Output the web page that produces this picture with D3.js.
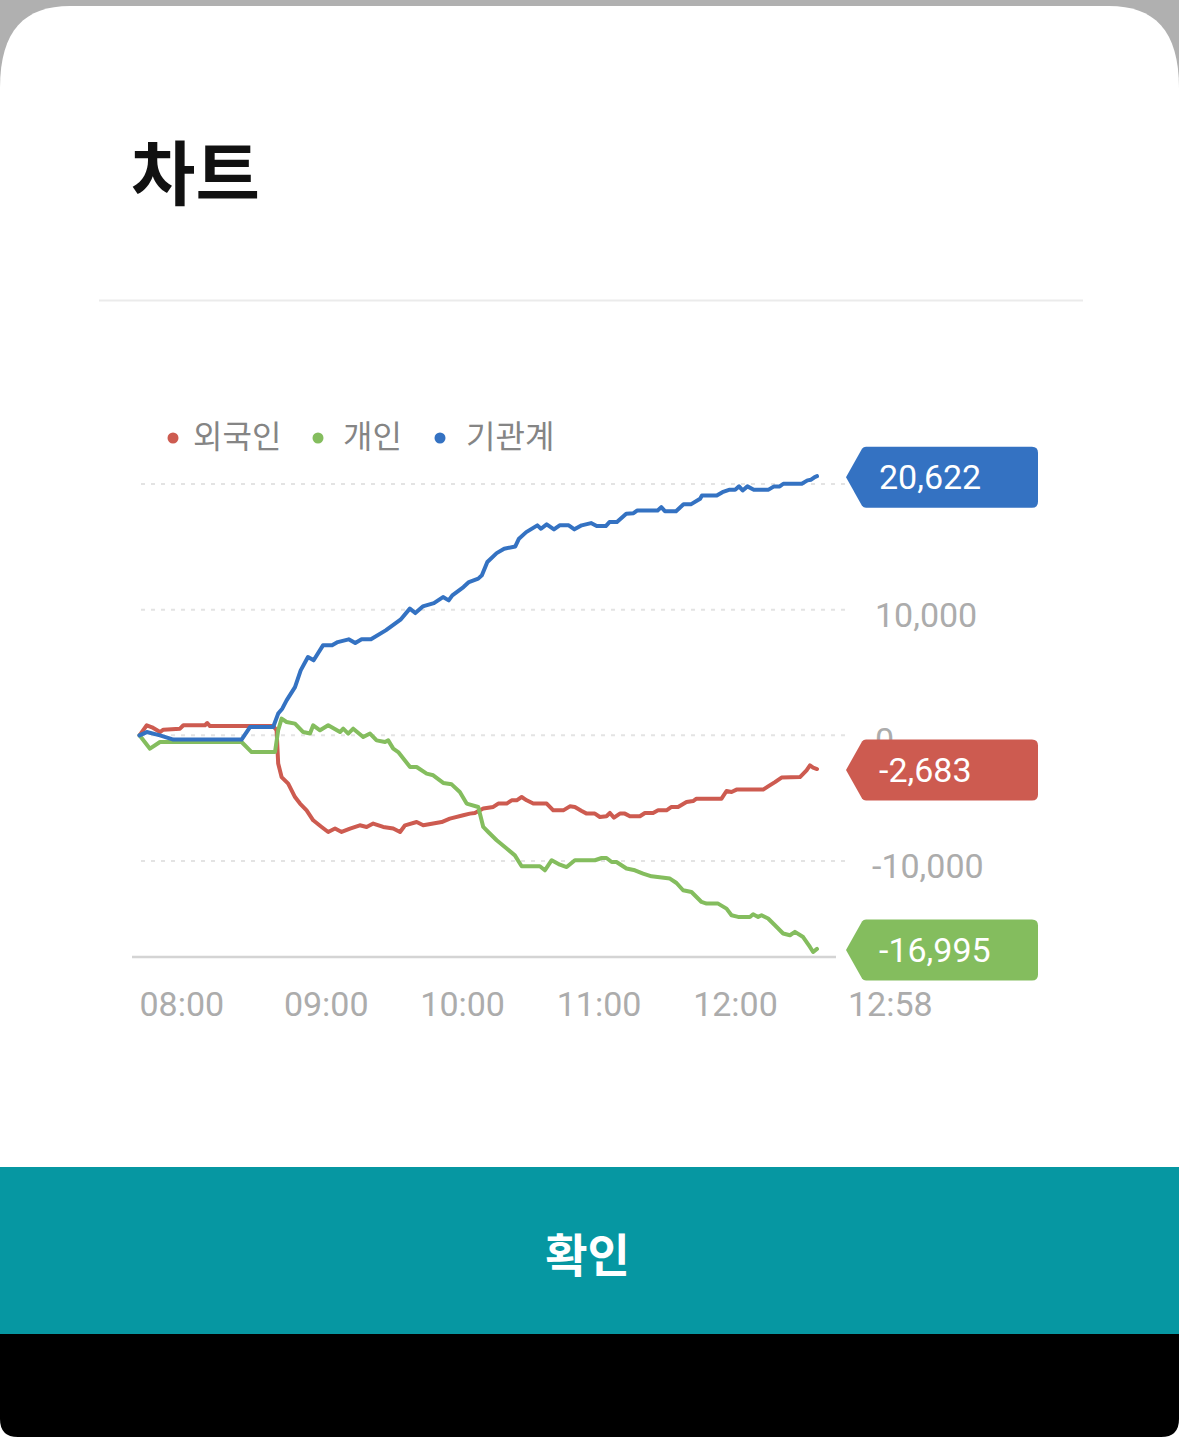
<!DOCTYPE html>
<html><head><meta charset="utf-8">
<script src="https://cdn.jsdelivr.net/npm/d3@7"></script>
<style>body{margin:0;background:#fff;}svg{display:block}</style>
</head><body>
<svg id="c" width="1179" height="1437"></svg>
<script>
// ---------- data ----------
const seriesNames = ["외국인", "개인", "기관계"];
const seriesColors = ["#cd5b50", "#84bd5e", "#3472c2"];
const lastValueLabels = ["-2,683", "-16,995", "20,622"];
const gridValues = [-10000, 0, 10000, 20000];
const yTickValues = [-10000, 0, 10000];
const xTickLabels = ["08:00", "09:00", "10:00", "11:00", "12:00", "12:58"];
// [minutes after 08:00, net amount]
const foreign = [[0,0],[3.2,800],[5.5,640],[9.0,260],[10.5,450],[17.8,530],[19.3,800],[28.8,800],[29.8,980],[31.0,740],[58.8,740],[60.3,400],[61.0,-2250],[62.5,-3320],[65.4,-3840],[68.4,-4910],[70.6,-5430],[73.5,-5970],[76.4,-6760],[80.1,-7290],[83.0,-7690],[86.0,-7420],[88.9,-7690],[92.6,-7420],[96.9,-7160],[99.9,-7290],[102.8,-7020],[107.2,-7290],[111.6,-7420],[114.6,-7690],[116.8,-7160],[121.9,-6900],[124.8,-7160],[132.9,-6900],[136.5,-6630],[142.4,-6360],[145.3,-6230],[147.5,-6180],[151.2,-5830],[155.6,-5700],[157.8,-5430],[161.5,-5430],[163.7,-5170],[165.9,-5170],[168.1,-4910],[170.3,-5170],[173.2,-5430],[179.1,-5430],[182.0,-5970],[186.4,-5970],[189.3,-5650],[191.5,-5700],[194.5,-6020],[196.7,-6230],[200.3,-6230],[202.5,-6500],[205.4,-6440],[206.9,-6180],[208.7,-6550],[211.3,-6230],[213.5,-6230],[215.7,-6440],[220.1,-6440],[222.3,-6180],[225.9,-6180],[228.1,-5970],[231.8,-5970],[234.0,-5700],[236.9,-5700],[240.6,-5310],[243.5,-5230],[245.0,-5040],[256.0,-5040],[258.2,-4430],[260.4,-4510],[262.6,-4320],[274.3,-4320],[276.5,-4060],[279.5,-3720],[282.4,-3360],[290.5,-3320],[293.4,-2780],[294.9,-2390],[296.3,-2570],[298,-2683]];
const individual = [[0,0],[4.6,-1060],[9.0,-530],[44.9,-530],[49.3,-1330],[59.6,-1330],[61.0,400],[62.5,1330],[64.7,1060],[68.4,930],[72.0,260],[75.0,140],[76.4,800],[79.4,400],[83.0,800],[88.2,260],[89.6,530],[91.8,140],[94.0,530],[98.4,-140],[101.4,140],[104.3,-400],[108.0,-530],[109.4,-400],[111.6,-1060],[113.8,-1330],[119.0,-2520],[121.9,-2520],[126.3,-3050],[129.2,-3180],[133.6,-3790],[137.3,-3900],[140.9,-4510],[143.9,-5430],[149.0,-5700],[151.2,-7290],[153.4,-7690],[157.1,-8350],[161.5,-9010],[165.1,-9550],[168.1,-10420],[176.1,-10420],[178.3,-10740],[181.3,-9940],[184.9,-10290],[187.9,-10480],[191.5,-9940],[200.3,-9940],[203.3,-9760],[205.4,-9760],[207.7,-10080],[209.8,-10080],[214.2,-10600],[217.9,-10740],[221.5,-11000],[225.2,-11220],[233.3,-11400],[236.2,-11750],[239.1,-12330],[242.8,-12470],[247.2,-13260],[249.4,-13390],[254.5,-13390],[258.2,-13790],[260.4,-14320],[263.3,-14450],[268.5,-14450],[269.9,-14240],[272.1,-14450],[273.6,-14320],[276.5,-14580],[279.5,-15110],[283.1,-15770],[286.1,-15910],[288.3,-15640],[291.9,-16050],[294.9,-16840],[296.3,-17240],[298,-16995]];
const institution = [[0,0],[3.2,260],[9.0,0],[14.9,-340],[44.9,-340],[48.6,660],[58.8,660],[61.0,1730],[62.8,2120],[64.7,2780],[68.4,3840],[70.9,5170],[74.1,6230],[76.6,5970],[80.7,7160],[84.7,7160],[87.2,7420],[92.0,7640],[94.9,7340],[97.7,7640],[101.8,7640],[108.3,8350],[114.8,9200],[118.9,10080],[121.3,9730],[124.6,10260],[129.5,10520],[133.5,11000],[136.0,10740],[137.6,11140],[142.5,11800],[144.9,12200],[149.0,12470],[150.6,12730],[153.0,13790],[157.1,14500],[160.4,14850],[165.3,15030],[166.9,15650],[170.1,16170],[175.0,16710],[176.6,16440],[179.1,16790],[182.3,16390],[184.8,16710],[188.8,16710],[191.3,16390],[194.5,16710],[198.6,16890],[201.1,16650],[205.1,16650],[206.7,16970],[210.0,16970],[214.1,17640],[217.3,17680],[219.0,17900],[227.9,17900],[229.5,18160],[231.1,17840],[236.0,17840],[239.3,18380],[242.5,18380],[246.6,18830],[247.4,19090],[253.9,19090],[256.4,19350],[259.6,19550],[262.0,19550],[263.7,19810],[265.3,19490],[267.4,19810],[270.2,19550],[276.7,19550],[279.1,19810],[281.6,19810],[283.2,20020],[291.3,20020],[293.8,20290],[295.4,20340],[297.0,20550],[298,20622]];
const seriesData = [foreign, individual, institution];

// ---------- drawing ----------
const svg = d3.select("#c");
const W = 1179, H = 1437;
const toMin = s => { const [h, m] = s.split(":").map(Number); return (h - 8) * 60 + m; };
const fmt = v => d3.format(",")(v).replace("\u2212", "-");

// phone frame
svg.append("rect").attr("x",0).attr("y",0).attr("width",W).attr("height",90).attr("fill","#b0b0b0");
svg.append("path").attr("fill","#fff")
  .attr("d",`M0,88 C0,30 25,6 70,6 L${W-70},6 C${W-25},6 ${W},30 ${W},88 L${W},${H} L0,${H} Z`);

// title
svg.append("text").attr("x",131).attr("y",200).text("차트")
  .attr("font-family","'Noto Sans CJK KR', sans-serif").attr("font-weight",700)
  .attr("font-size",70).attr("fill","#111");
svg.append("line").attr("x1",99).attr("x2",1083).attr("y1",300.5).attr("y2",300.5)
  .attr("stroke","#ebebeb").attr("stroke-width",2);

// scales
const x = d3.scaleLinear().domain([0, toMin("12:58")]).range([139.5, 817]);
const y = d3.scaleLinear().domain([-10000, 20000]).range([861, 484]);
const gridX1 = 141, gridX2 = 846, axisX1 = 132, axisX2 = 836, axisY = 957;

// grid
const g = svg.append("g");
g.selectAll("line.grid").data(gridValues).join("line")
  .attr("x1",gridX1).attr("x2",gridX2)
  .attr("y1",d=>y(d)).attr("y2",d=>y(d))
  .attr("stroke","#e3e3e3").attr("stroke-width",2).attr("stroke-dasharray","4,6");
// y tick labels
g.selectAll("text.yt").data(yTickValues).join("text")
  .attr("x",d=> d<0 ? 872 : 875).attr("y",d=>y(d)+17)
  .text(d=>fmt(d))
  .attr("font-family","Roboto, sans-serif").attr("font-size",34).attr("fill","#acacac");

// bottom axis line
svg.append("line").attr("x1",axisX1).attr("x2",axisX2).attr("y1",axisY).attr("y2",axisY)
  .attr("stroke","#d4d4d4").attr("stroke-width",2.5);
// x tick labels
svg.selectAll("text.xt").data(xTickLabels).join("text")
  .attr("x",(d,i)=> i===0 ? x(toMin(d)) : (i===xTickLabels.length-1 ? axisX2+12 : x(toMin(d))+8))
  .attr("y",1016).text(d=>d)
  .attr("font-family","Roboto, sans-serif").attr("font-size",34).attr("fill","#acacac");

// lines
const line = d3.line().x(d=>x(d[0])).y(d=>y(d[1]));
seriesData.forEach((s,i)=>{
  svg.append("path").datum(s).attr("d",line).attr("fill","none")
    .attr("stroke",seriesColors[i]).attr("stroke-width",4)
    .attr("stroke-linejoin","round").attr("stroke-linecap","round");
});

// legend
const legendX = [173, 318, 440];
const legendGap = [20, 25, 26];
seriesNames.forEach((n,i)=>{
  svg.append("circle").attr("cx",legendX[i]).attr("cy",438).attr("r",5.5).attr("fill",seriesColors[i]);
  svg.append("text").attr("x",legendX[i]+legendGap[i]).attr("y",448).text(n)
    .attr("font-family","'Noto Sans CJK KR', sans-serif").attr("font-size",32).attr("fill","#858585");
});

// end-value badges
seriesData.forEach((s,i)=>{
  const last = s[s.length-1];
  const cy = y(last[1]) + 1;
  const h = 61, tip = 846, bx = 862, right = 1038, r = 6;
  const top = cy - h/2, bot = cy + h/2;
  svg.append("path").attr("fill",seriesColors[i])
    .attr("d",`M${tip},${cy} L${bx},${top+2} Q${bx+1.5},${top} ${bx+4},${top} L${right-r},${top} Q${right},${top} ${right},${top+r} L${right},${bot-r} Q${right},${bot} ${right-r},${bot} L${bx+4},${bot} Q${bx+1.5},${bot} ${bx},${bot-2} Z`);
  svg.append("text").attr("x",879).attr("y",cy+12).text(lastValueLabels[i])
    .attr("font-family","Roboto, sans-serif").attr("font-size",34).attr("fill","#fff");
});

// confirm button
svg.append("rect").attr("x",0).attr("y",1167).attr("width",W).attr("height",167).attr("fill","#0697a2");
svg.append("text").attr("x",W/2-2).attr("y",1252).attr("text-anchor","middle").attr("dominant-baseline","central")
  .text("확인").attr("font-family","'Noto Sans CJK KR', sans-serif").attr("font-weight",700)
  .attr("font-size",46).attr("fill","#fff");
// bottom black bar
svg.append("path").attr("fill","#000")
  .attr("d",`M0,1334 L${W},1334 L${W},${H-18} Q${W},${H} ${W-18},${H} L18,${H} Q0,${H} 0,${H-18} Z`);
</script>
</body></html>
